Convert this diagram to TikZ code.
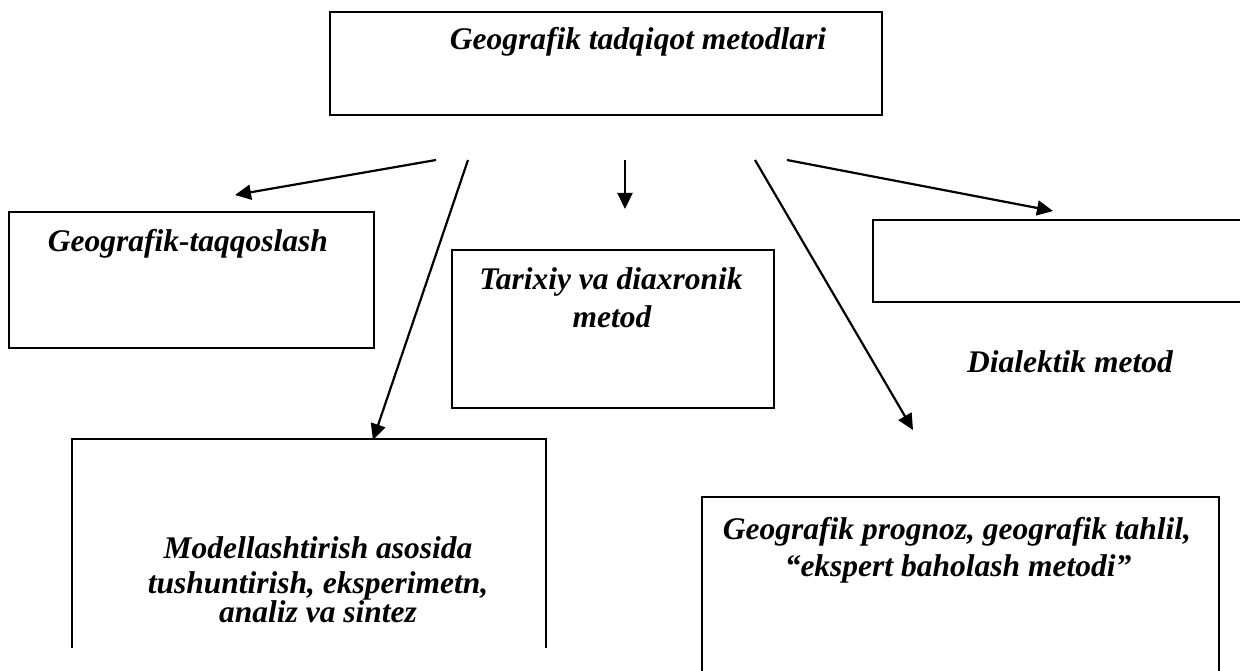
\documentclass[tikz,border=0pt]{standalone}
\usepackage{fontspec}
\setmainfont{Liberation Serif}
\usetikzlibrary{arrows.meta}
\begin{document}
\begin{tikzpicture}[x=1pt,y=-1pt,
  box/.style={draw, line width=2pt, rectangle, inner sep=0pt},
  openbox/.style={draw=none, rectangle, inner sep=0pt},
  side/.style={line width=2pt},
  lbl/.style={font=\fontsize{31.5}{38}\selectfont\bfseries\itshape, inner sep=0pt, anchor=base},
  arr/.style={line width=2.2pt, -{Triangle[length=16pt,width=15pt]}}]
\useasboundingbox (0,0) rectangle (1240,671);

% boxes
\node[box, minimum width=552pt, minimum height=103pt] (top) at (606,63.5) {};
\node[box, minimum width=365pt, minimum height=136pt] (geo) at (191.5,280) {};
\node[box, minimum width=322pt, minimum height=158pt] (tar) at (613,329) {};
\node[openbox, minimum width=367pt, minimum height=82pt] (emp) at (1056.5,261) {};
\node[openbox, minimum width=474pt, minimum height=209pt] (mod) at (309,543.5) {};
\node[openbox, minimum width=517pt, minimum height=174pt] (prg) at (960.5,584) {};

\draw[side] (emp.north east) -- (emp.north west) -- (emp.south west) -- (emp.south east);
\draw[side] (mod.south west) -- (mod.north west) -- (mod.north east) -- (mod.south east);
\draw[side] (prg.south west) -- (prg.north west) -- (prg.north east) -- (prg.south east);

% texts
\node[lbl] (t0) at (638,50) {Geografik tadqiqot metodlari};
\node[lbl] (t1) at (188,252) {Geografik-taqqoslash};
\node[lbl] (t2a) at (611,290) {Tarixiy va diaxronik};
\node[lbl] (t2b) at (612,327) {metod};
\node[lbl] (t3) at (1070,372) {Dialektik metod};
\node[lbl] (t4a) at (318,558) {Modellashtirish asosida};
\node[lbl] (t4b) at (318,593) {tushuntirish, eksperimetn,};
\node[lbl] (t4c) at (318,622) {analiz va sintez};
\node[lbl] (t5a) at (957,539) {Geografik prognoz, geografik tahlil,};
\node[lbl] (t5b) at (958,576) {“ekspert baholash metodi”};

% connector ends
\coordinate (s1) at (436,160);
\coordinate (e1) at (235,195);
\coordinate (s2) at (468,160);
\coordinate (e2) at (373,440);
\coordinate (s3) at (625,160);
\coordinate (e3) at (625,209);
\coordinate (s4) at (755,160);
\coordinate (e4) at (913,430);
\coordinate (s5) at (787,160);
\coordinate (e5) at (1053,211);

\draw[arr] (s1) -- (e1);
\draw[arr] (s2) -- (e2);
\draw[arr] (s3) -- (e3);
\draw[arr] (s4) -- (e4);
\draw[arr] (s5) -- (e5);
\end{tikzpicture}
\end{document}
